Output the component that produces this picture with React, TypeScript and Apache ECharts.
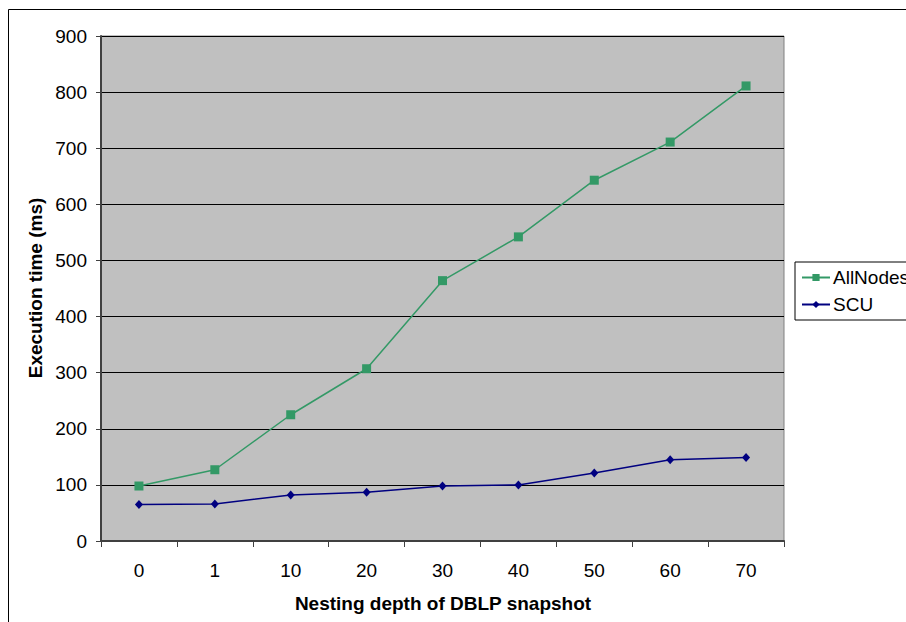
import React, { useEffect, useRef } from "react";
import * as echarts from "echarts";

const categories = ["0", "1", "10", "20", "30", "40", "50", "60", "70"];
const allNodes = [98, 127, 225, 307, 464, 542, 643, 711, 811];
const scu = [65, 66, 82, 87, 98, 100, 121, 145, 149];
const yTicks = { min: 0, max: 900, interval: 100 };

export default function App() {
  const ref = useRef<HTMLDivElement>(null);
  useEffect(() => {
    const chart = echarts.init(ref.current!, null, { renderer: "svg" });
    const font = "Arial, 'Liberation Sans', sans-serif";
    chart.setOption({
      animation: false,
      textStyle: { fontFamily: font },
      grid: {
        left: 101,
        top: 36,
        width: 683,
        height: 505,
        show: true,
        backgroundColor: "#C0C0C0",
        borderColor: "#808080",
        borderWidth: 1,
      },
      xAxis: {
        type: "category",
        data: categories,
        boundaryGap: true,
        axisLine: { lineStyle: { color: "#404040", width: 2 } },
        axisTick: { show: true, length: 6, inside: false, lineStyle: { color: "#404040", width: 1 } },
        axisLabel: { color: "#000", fontSize: 19, margin: 20, fontFamily: font },
        splitLine: { show: false },
      },
      yAxis: {
        type: "value",
        min: yTicks.min,
        max: yTicks.max,
        interval: yTicks.interval,
        axisLine: { show: true, lineStyle: { color: "#404040", width: 2 } },
        axisTick: { show: true, length: 5, lineStyle: { color: "#404040", width: 1 } },
        axisLabel: { color: "#000", fontSize: 19, margin: 14, fontFamily: font },
        splitLine: { show: true, lineStyle: { color: "#000", width: 1 } },
      },
      legend: {
        orient: "vertical",
        left: 795,
        top: 262,
        padding: [6, 10, 6, 6],
        itemGap: 8,
        itemWidth: 28,
        itemHeight: 9,
        borderColor: "#000",
        borderWidth: 1,
        backgroundColor: "#fff",
        textStyle: { fontSize: 19, color: "#000", fontFamily: font, padding: [0, 0, 0, -2] },
        data: ["AllNodes", "SCU"],
      },
      series: [
        {
          name: "AllNodes",
          type: "line",
          data: allNodes,
          symbol: "rect",
          symbolSize: 9,
          lineStyle: { color: "#339966", width: 1.5 },
          itemStyle: { color: "#339966" },
        },
        {
          name: "SCU",
          type: "line",
          data: scu,
          symbol: "diamond",
          symbolSize: [8, 9],
          lineStyle: { color: "#000080", width: 1.5 },
          itemStyle: { color: "#000080" },
        },
      ],
      graphic: [
        {
          type: "rect",
          silent: true,
          shape: { x: 8.5, y: 9.5, width: 1000, height: 1000 },
          style: { fill: "none", stroke: "#000", lineWidth: 1 },
          z: -10,
        },
        {
          type: "text",
          x: 443,
          y: 603,
          style: {
            text: "Nesting depth of DBLP snapshot",
            font: "bold 19px Arial, 'Liberation Sans', sans-serif",
            fill: "#000",
            align: "center",
            verticalAlign: "middle",
          },
        },
        {
          type: "text",
          x: 35,
          y: 288,
          rotation: Math.PI / 2,
          style: {
            text: "Execution time (ms)",
            font: "bold 19px Arial, 'Liberation Sans', sans-serif",
            fill: "#000",
            align: "center",
            verticalAlign: "middle",
          },
        },
      ],
    });
    return () => chart.dispose();
  }, []);
  return (
    <div
      ref={ref}
      style={{ position: "fixed", left: 0, top: 0, width: 906, height: 622, background: "#fff" }}
    />
  );
}
